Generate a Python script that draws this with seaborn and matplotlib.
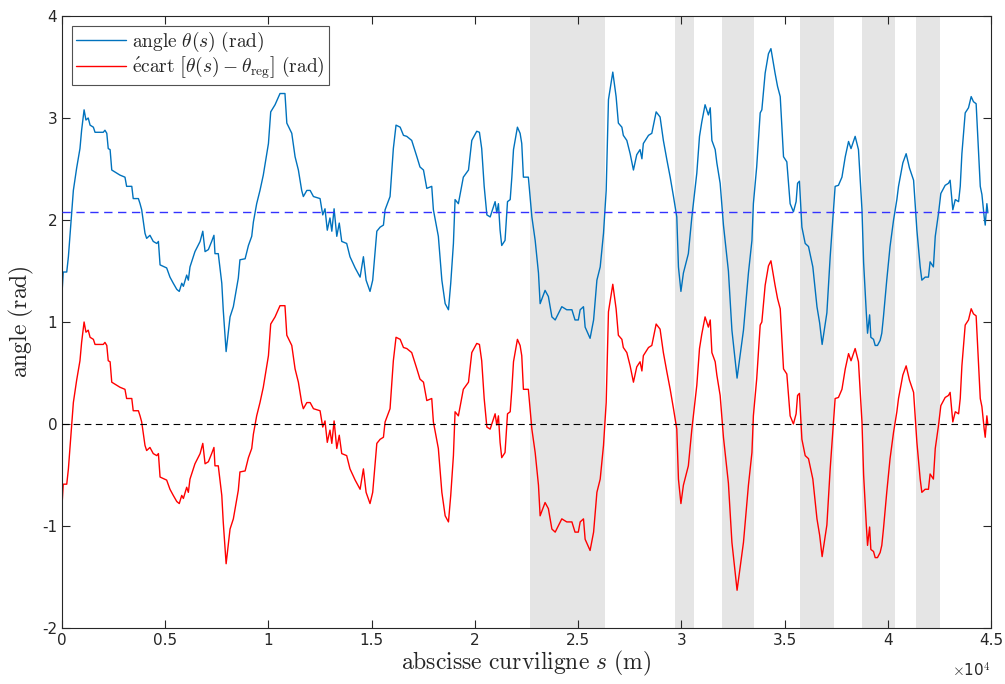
import numpy as np
import pandas as pd
import matplotlib
matplotlib.use("Agg")
import matplotlib.pyplot as plt
from matplotlib.ticker import FuncFormatter, MultipleLocator
import seaborn as sns

# curvilinear abscissa (x 1e4 m) and heading angle (rad)
s_1e4 = [
    0.000, 0.006, 0.023, 0.031, 0.055, 0.071, 0.087, 0.095, 0.107, 0.116,
    0.127, 0.136, 0.152, 0.160, 0.200, 0.208, 0.217, 0.224, 0.233, 0.241,
    0.265, 0.281, 0.305, 0.313, 0.338, 0.345, 0.370, 0.378, 0.386, 0.402,
    0.410, 0.426, 0.442, 0.459, 0.467, 0.475, 0.507, 0.523, 0.539, 0.556,
    0.568, 0.580, 0.588, 0.604, 0.612, 0.620, 0.644, 0.669, 0.682, 0.693,
    0.709, 0.725, 0.736, 0.741, 0.757, 0.774, 0.781, 0.795, 0.814, 0.830,
    0.854, 0.862, 0.887, 0.903, 0.919, 0.927, 0.943, 0.959, 0.975, 1.000,
    1.011, 1.032, 1.043, 1.056, 1.080, 1.089, 1.113, 1.129, 1.145, 1.161,
    1.169, 1.186, 1.202, 1.218, 1.250, 1.263, 1.274, 1.285, 1.298, 1.307,
    1.318, 1.331, 1.343, 1.355, 1.379, 1.395, 1.420, 1.444, 1.460, 1.473,
    1.492, 1.505, 1.525, 1.541, 1.557, 1.565, 1.589, 1.605, 1.618, 1.638,
    1.654, 1.670, 1.694, 1.719, 1.734, 1.751, 1.767, 1.791, 1.799, 1.823,
    1.840, 1.856, 1.872, 1.883, 1.896, 1.904, 1.920, 1.944, 1.969, 1.985,
    2.009, 2.022, 2.033, 2.045, 2.058, 2.074, 2.098, 2.106, 2.114, 2.122,
    2.130, 2.146, 2.158, 2.171, 2.179, 2.187, 2.206, 2.219, 2.227, 2.235,
    2.259, 2.276, 2.292, 2.308, 2.316, 2.340, 2.356, 2.373, 2.389, 2.421,
    2.445, 2.470, 2.485, 2.501, 2.510, 2.526, 2.534, 2.558, 2.575, 2.591,
    2.607, 2.623, 2.636, 2.647, 2.668, 2.684, 2.695, 2.712, 2.719, 2.736,
    2.752, 2.768, 2.784, 2.800, 2.809, 2.816, 2.841, 2.857, 2.878, 2.897,
    2.913, 2.930, 2.946, 2.962, 2.978, 2.986, 2.998, 3.010, 3.034, 3.051,
    3.075, 3.088, 3.099, 3.115, 3.131, 3.140, 3.148, 3.164, 3.172, 3.188,
    3.204, 3.228, 3.245, 3.270, 3.301, 3.325, 3.342, 3.349, 3.365, 3.382,
    3.390, 3.406, 3.422, 3.434, 3.443, 3.454, 3.466, 3.479, 3.495, 3.511,
    3.527, 3.543, 3.556, 3.563, 3.572, 3.584, 3.600, 3.616, 3.637, 3.657,
    3.670, 3.682, 3.705, 3.721, 3.745, 3.761, 3.778, 3.794, 3.810, 3.822,
    3.842, 3.858, 3.875, 3.883, 3.896, 3.902, 3.912, 3.918, 3.931, 3.939,
    3.950, 3.963, 3.971, 3.979, 3.995, 4.011, 4.028, 4.044,
    4.052, 4.073, 4.089, 4.105, 4.125, 4.141, 4.157, 4.165,
    4.181, 4.197, 4.205, 4.221, 4.230, 4.246, 4.257, 4.278, 4.294, 4.302,
    4.315, 4.327, 4.343, 4.351, 4.359, 4.375, 4.391, 4.404, 4.415, 4.428,
    4.448, 4.456, 4.467, 4.472, 4.480, 4.485,
]
theta = [
    1.28, 1.49, 1.49, 1.64, 2.29, 2.51, 2.70, 2.88, 3.08, 2.98,
    3.00, 2.93, 2.91, 2.86, 2.86, 2.88, 2.85, 2.70, 2.69, 2.49,
    2.46, 2.44, 2.42, 2.33, 2.33, 2.21, 2.21, 2.16, 2.10, 1.87,
    1.82, 1.85, 1.79, 1.77, 1.79, 1.56, 1.53, 1.44, 1.38, 1.32,
    1.30, 1.38, 1.35, 1.46, 1.41, 1.54, 1.69, 1.79, 1.89, 1.69,
    1.71, 1.79, 1.85, 1.67, 1.67, 1.38, 1.12, 0.71, 1.05, 1.15,
    1.43, 1.61, 1.62, 1.75, 1.84, 1.98, 2.16, 2.29, 2.44, 2.75,
    3.06, 3.13, 3.18, 3.24, 3.24, 2.95, 2.85, 2.62, 2.49, 2.29,
    2.23, 2.29, 2.29, 2.23, 2.21, 2.05, 2.11, 1.90, 2.02, 1.89,
    2.11, 1.84, 1.97, 1.79, 1.77, 1.64, 1.53, 1.44, 1.64, 1.41,
    1.30, 1.41, 1.89, 1.93, 1.95, 2.10, 2.23, 2.70, 2.93, 2.91,
    2.83, 2.82, 2.78, 2.62, 2.52, 2.49, 2.31, 2.33, 2.10, 1.84,
    1.41, 1.18, 1.12, 1.38, 1.77, 2.20, 2.16, 2.42, 2.49, 2.78,
    2.87, 2.86, 2.70, 2.33, 2.05, 2.03, 2.18, 2.07, 2.16, 1.90,
    1.75, 1.80, 2.18, 2.20, 2.42, 2.69, 2.91, 2.85, 2.75, 2.42,
    2.42, 2.03, 1.80, 1.48, 1.18, 1.31, 1.25, 1.05, 1.02, 1.15,
    1.12, 1.12, 1.02, 1.02, 1.12, 1.15, 0.95, 0.84, 1.02, 1.41,
    1.54, 1.87, 2.29, 3.18, 3.45, 3.21, 2.95, 2.91, 2.83, 2.78,
    2.65, 2.49, 2.64, 2.69, 2.60, 2.75, 2.83, 2.85, 3.06, 3.01,
    2.78, 2.59, 2.42, 2.23, 2.03, 1.54, 1.30, 1.48, 1.67, 2.03,
    2.46, 2.82, 2.96, 3.13, 3.03, 3.10, 2.78, 2.69, 2.56, 2.36,
    1.95, 1.50, 0.92, 0.45, 0.92, 1.48, 1.80, 2.16, 2.52, 3.05,
    3.08, 3.44, 3.63, 3.68, 3.57, 3.44, 3.31, 3.21, 2.62, 2.57,
    2.16, 2.08, 2.18, 2.36, 2.38, 1.93, 1.77, 1.74, 1.54, 1.15,
    0.99, 0.78, 1.09, 1.64, 2.33, 2.34, 2.42, 2.62, 2.77, 2.70,
    2.82, 2.69, 2.10, 1.58, 1.09, 0.89, 1.07, 0.85, 0.83, 0.77,
    0.77, 0.82, 0.89, 1.05, 1.41, 1.74, 2.00, 2.20,
    2.33, 2.56, 2.65, 2.51, 2.39, 1.90, 1.54, 1.41,
    1.44, 1.44, 1.59, 1.54, 1.84, 2.07, 2.26, 2.34, 2.36, 2.39,
    2.10, 2.20, 2.18, 2.33, 2.65, 3.05, 3.10, 3.21, 3.16, 3.14,
    2.33, 2.25, 2.03, 1.95, 2.16, 2.07,
]
theta_reg = 2.08

# grey bands (x 1e4 m)
zone_start = [2.267, 2.970, 3.198, 3.576, 3.876, 4.138]
zone_end = [2.629, 3.062, 3.353, 3.740, 4.036, 4.254]

sns.set_style("ticks")
plt.rcParams['font.family'] = ['DejaVu Sans']
plt.rcParams['mathtext.fontset'] = 'cm'
plt.rcParams['axes.unicode_minus'] = False

df = pd.DataFrame({"s": np.array(s_1e4) * 1e4, "theta": theta})
df["ecart"] = df["theta"] - theta_reg

fig = plt.figure(figsize=(10.05, 6.84), dpi=100)
ax = fig.add_axes([62 / 1005, 1 - 628 / 684, 929 / 1005, 612 / 684])

for a, b in zip(zone_start, zone_end):
    ax.axvspan(a * 1e4, b * 1e4, color="#e5e5e5", lw=0, zorder=0)

ax.axhline(theta_reg, color="#3333ff", ls=(0, (6, 4)), lw=1.0, zorder=3)
ax.axhline(0, color="black", ls=(0, (6, 4)), lw=0.8, zorder=3)

sns.lineplot(data=df, x="s", y="theta", ax=ax, color="#0072BD", lw=1.0,
             estimator=None, zorder=2,
             label=r"$\mathrm{angle}\ \theta(s)\ \mathrm{(rad)}$")
sns.lineplot(data=df, x="s", y="ecart", ax=ax, color="#ff0000", lw=1.0,
             estimator=None, zorder=2,
             label=r"$\mathrm{\acute{e}cart}\ \left[\theta(s)-\theta_{\mathrm{reg}}\right]\ \mathrm{(rad)}$")

ax.set_xlim(0, 45000)
ax.set_ylim(-2, 4)
ax.xaxis.set_major_locator(MultipleLocator(5000))
ax.yaxis.set_major_locator(MultipleLocator(1))
ax.xaxis.set_major_formatter(FuncFormatter(lambda v, p: f"{v / 1e4:g}"))
ax.tick_params(direction="in", length=6, width=0.8, top=True, right=True,
               labelsize=11, colors="#262626")
for sp in ax.spines.values():
    sp.set_visible(True)
    sp.set_color("#262626")
    sp.set_linewidth(0.8)

ax.set_xlabel(r"$\mathrm{abscisse\ curviligne}\ s\ \mathrm{(m)}$", fontsize=17, labelpad=1)
ax.set_ylabel(r"$\mathrm{angle\ (rad)}$", fontsize=17, labelpad=4)
ax.text(1.0, -0.055, r"$\times$10$^{4}$", transform=ax.transAxes, ha="right",
        va="top", fontsize=11, color="#262626")

leg = ax.legend(loc="upper left", fontsize=14, frameon=True, fancybox=False,
                edgecolor="#262626", handlelength=2.6, borderaxespad=0.5,
                handletextpad=0.3, borderpad=0.2, labelspacing=0.05)
leg.get_frame().set_linewidth(0.8)

fig.savefig("out.png", dpi=100)
